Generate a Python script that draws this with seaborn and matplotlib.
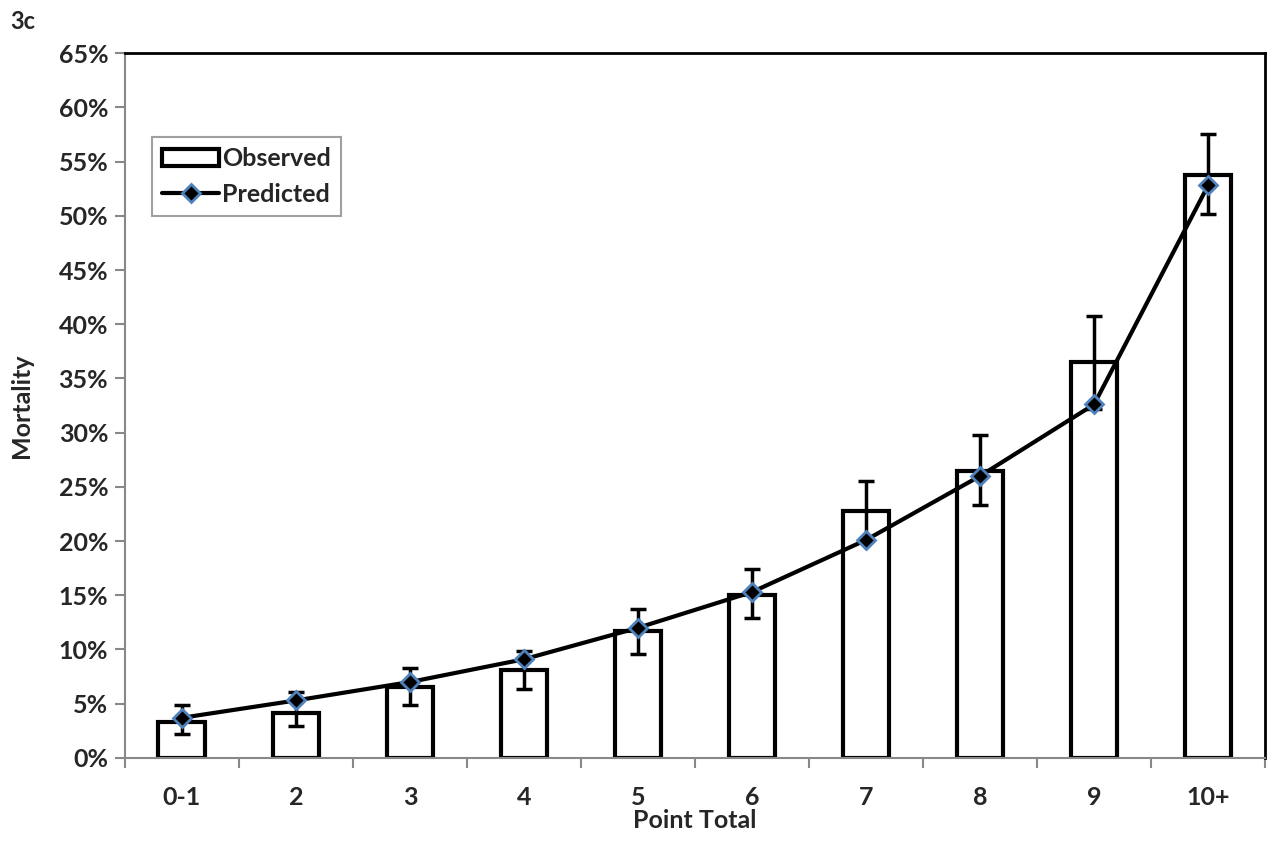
import numpy as np
import pandas as pd
import matplotlib
matplotlib.use("Agg")
import matplotlib.pyplot as plt
import seaborn as sns
from matplotlib.ticker import FuncFormatter, FixedLocator

categories = ["0-1", "2", "3", "4", "5", "6", "7", "8", "9", "10+"]
observed = [3.3, 4.1, 6.5, 8.1, 11.7, 15.0, 22.8, 26.5, 36.5, 53.8]
err_low = [2.2, 2.9, 4.9, 6.4, 9.6, 12.9, 20.2, 23.3, 32.2, 50.2]
err_high = [4.9, 6.1, 8.3, 9.9, 13.7, 17.4, 25.5, 29.8, 40.8, 57.5]
predicted = [3.7, 5.3, 7.0, 9.1, 12.0, 15.3, 20.1, 26.0, 32.6, 52.8]

sns.set_theme(style="white")
plt.rcParams['font.family'] = ['Lato', 'DejaVu Sans']
plt.rcParams['font.weight'] = 'bold'

df = pd.DataFrame({"cat": categories, "obs": observed, "pred": predicted})
df["x"] = np.arange(len(categories))

fig = plt.figure(figsize=(12.74, 8.44), dpi=100)
ax = fig.add_axes([0.098, 0.102, 0.895, 0.835])

sns.barplot(data=df, x="cat", y="obs", color="white", edgecolor="black",
            linewidth=3, width=0.41, saturation=1, ax=ax, label="Observed")

obs = np.array(observed)
yerr = [obs - np.array(err_low), np.array(err_high) - obs]
ax.errorbar(df["x"], obs, yerr=yerr, fmt="none", ecolor="black",
            elinewidth=2.5, capsize=6, capthick=2.5, zorder=3)

sns.lineplot(data=df, x="x", y="pred", color="black", linewidth=3,
             marker="D", markersize=9, markerfacecolor="black",
             markeredgecolor="#4f81bd", markeredgewidth=2,
             ax=ax, label="Predicted", zorder=4)

ax.set_xlim(-0.5, len(categories) - 0.5)
ax.set_ylim(0, 65)
ax.yaxis.set_major_locator(FixedLocator(np.arange(0, 66, 5)))
ax.yaxis.set_major_formatter(FuncFormatter(lambda v, p: f"{v:.0f}%"))
ax.set_xticks(df["x"])
ax.set_xticklabels(categories)
ax.xaxis.set_minor_locator(FixedLocator(np.arange(-0.5, len(categories), 1)))

ax.tick_params(axis="y", which="major", direction="out", length=7, width=1.5,
               color="#888888", labelsize=18, pad=5, left=True)
ax.tick_params(axis="x", which="major", length=0, labelsize=18, pad=20)
ax.tick_params(axis="x", which="minor", direction="out", length=7, width=1.5,
               color="#888888", bottom=True)
for lbl in ax.get_xticklabels() + ax.get_yticklabels():
    lbl.set_fontweight("bold")

for s in ["left", "bottom"]:
    ax.spines[s].set_color("#888888")
    ax.spines[s].set_linewidth(1.5)
for s in ["top", "right"]:
    ax.spines[s].set_color("black")
    ax.spines[s].set_linewidth(2)

ax.set_xlabel("Point Total", fontsize=18, fontweight="bold", labelpad=0)
ax.set_ylabel("Mortality", fontsize=18, fontweight="bold", labelpad=18)

handles, labels = ax.get_legend_handles_labels()
order = [labels.index("Observed"), labels.index("Predicted")]
leg = ax.legend([handles[i] for i in order], [labels[i] for i in order],
                loc="upper left", bbox_to_anchor=(0.0237, 0.881),
                borderaxespad=0, frameon=True, fancybox=False,
                edgecolor="#888888", handlelength=2.3, handletextpad=0.1,
                borderpad=0.4, labelspacing=0.5,
                prop={"weight": "bold", "size": 18})
leg.get_frame().set_linewidth(1.5)

fig.text(0.008, 0.974, "3c", fontsize=17, fontweight="bold", va="center")

fig.savefig("out.png", dpi=100)
